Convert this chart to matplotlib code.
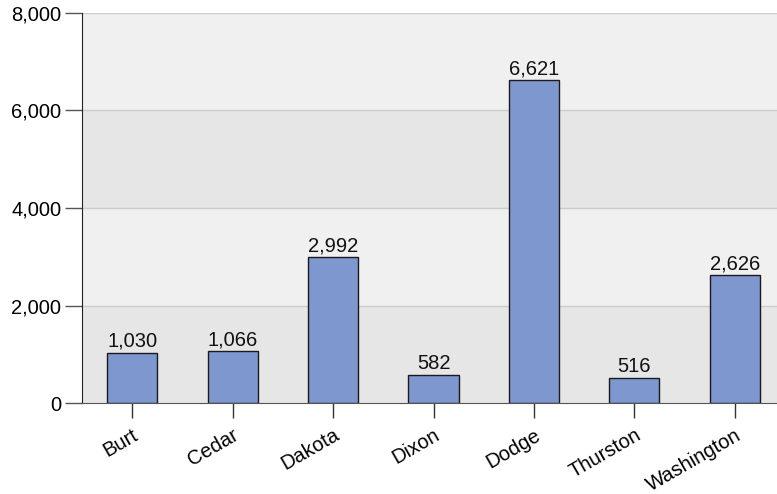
import numpy as np
import matplotlib
matplotlib.use("Agg")
import matplotlib.pyplot as plt

counties = ["Burt", "Cedar", "Dakota", "Dixon", "Dodge", "Thurston", "Washington"]
values = [1030, 1066, 2992, 582, 6621, 516, 2626]
y_ticks = [0, 2000, 4000, 6000, 8000]

plt.rcParams["font.family"] = ["Liberation Sans", "DejaVu Sans"]

fig = plt.figure(figsize=(7.77, 4.94), dpi=100)
ax = fig.add_axes([0.1055, 0.184, 0.8945, 0.79])

# alternating horizontal bands
for i, (lo, hi) in enumerate(zip(y_ticks[:-1], y_ticks[1:])):
    ax.axhspan(lo, hi, color="#e6e6e6" if i % 2 == 0 else "#f0f0f0", zorder=0, lw=0)
for y in y_ticks[1:]:
    ax.axhline(y, color="#cccccc", lw=1.0, zorder=1)

x = np.arange(len(counties))
bars = ax.bar(x, values, width=0.5, color="#7f97cf", edgecolor="#1a1a1a", lw=1.0, zorder=2)
for xi, v in zip(x, values):
    ax.text(xi, v + 40, f"{v:,}", ha="center", va="bottom", fontsize=14.5, color="#111111")

ax.set_xlim(-0.5, 6.42)
ax.set_ylim(0, 8000)
ax.set_yticks(y_ticks)
ax.set_yticklabels([f"{t:,}" for t in y_ticks])
ax.set_xticks(x)
ax.set_xticklabels(counties, rotation=30, ha="right", rotation_mode="anchor")

ax.tick_params(axis="y", length=12, width=1, color="#555555", labelsize=14.5, pad=3)
ax.tick_params(axis="x", length=11, width=1, color="#333333", labelsize=14.5, pad=5)
for s in ("top", "right"):
    ax.spines[s].set_visible(False)
ax.spines["left"].set_color("#222222")
ax.spines["bottom"].set_color("#555555")

fig.savefig("out.png", dpi=100, facecolor="white")
